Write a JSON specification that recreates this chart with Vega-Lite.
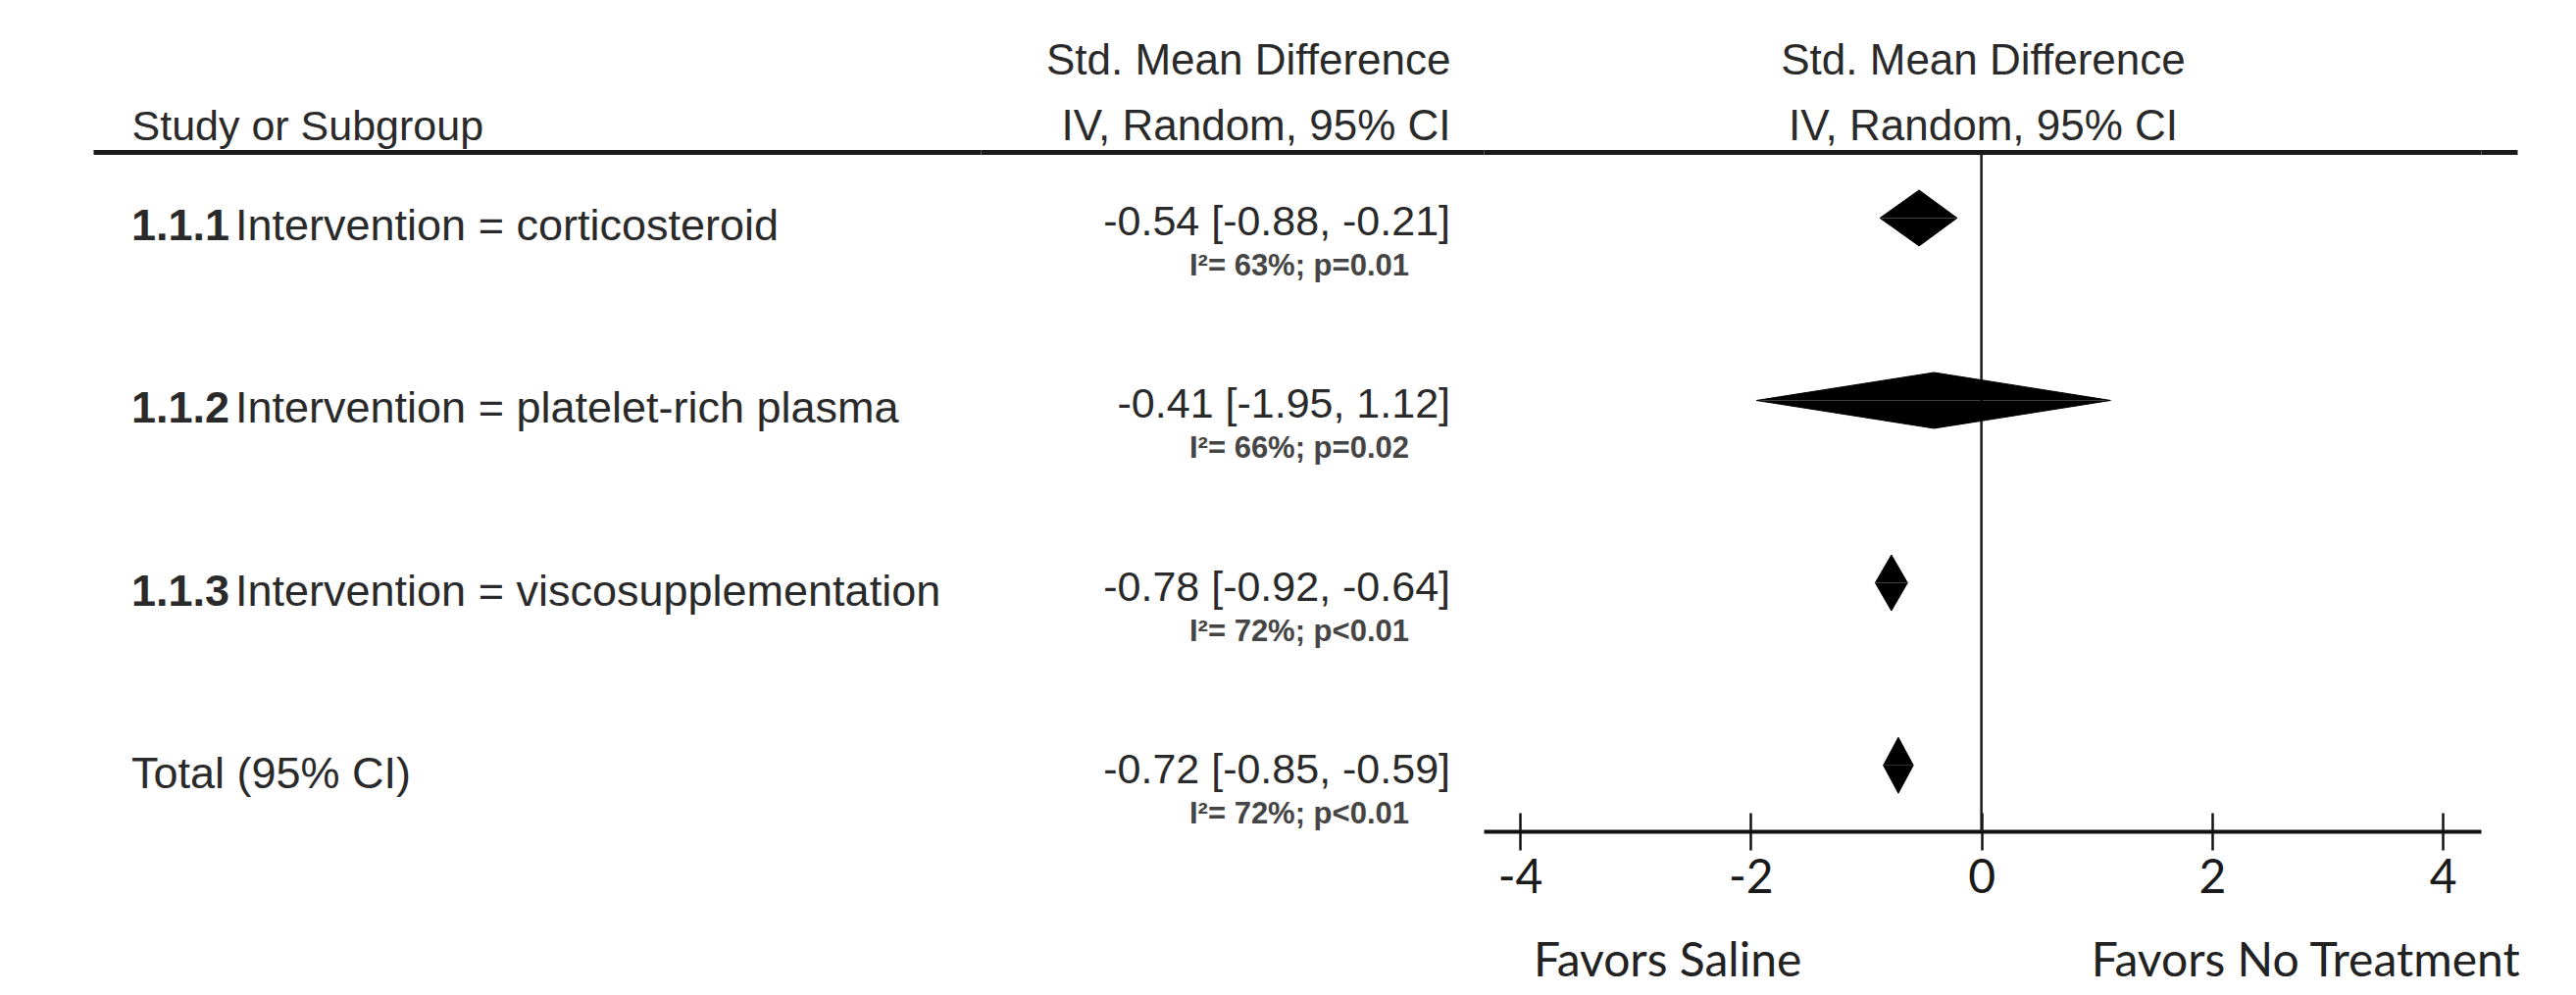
{
  "$schema": "https://vega.github.io/schema/vega-lite/v6.json",
  "background": "white",
  "padding": {"left": 95, "top": 40, "right": 0, "bottom": 0},
  "datasets": {
    "groups": [
      {"code": "1.1.1", "name": "Intervention = corticosteroid", "est": -0.54, "lo": -0.88, "hi": -0.21, "ci": "-0.54 [-0.88, -0.21]", "het": "I²= 63%; p=0.01"},
      {"code": "1.1.2", "name": "Intervention = platelet-rich plasma", "est": -0.41, "lo": -1.95, "hi": 1.12, "ci": "-0.41 [-1.95, 1.12]", "het": "I²= 66%; p=0.02"},
      {"code": "1.1.3", "name": "Intervention = viscosupplementation", "est": -0.78, "lo": -0.92, "hi": -0.64, "ci": "-0.78 [-0.92, -0.64]", "het": "I²= 72%; p<0.01"},
      {"code": "", "name": "Total (95% CI)", "est": -0.72, "lo": -0.85, "hi": -0.59, "ci": "-0.72 [-0.85, -0.59]", "het": "I²= 72%; p<0.01"}
    ],
    "vertices": [
      {"vertex": "lo", "upper": "mid", "lower": "mid"},
      {"vertex": "est", "upper": "top", "lower": "bottom"},
      {"vertex": "hi", "upper": "mid", "lower": "mid"}
    ]
  },
  "config": {"view": {"stroke": null}, "axis": {"grid": false}},
  "spacing": 0,
  "bounds": "flush",
  "hconcat": [
    {
      "width": 905,
      "height": 693,
      "data": {"name": "groups"},
      "encoding": {
        "x": {"datum": 0, "type": "quantitative", "scale": {"domain": [0, 1], "nice": false, "zero": false},
          "axis": {"orient": "top", "ticks": false, "labels": false, "domain": true, "domainWidth": 5, "domainColor": "#1a1a1a",
            "title": "Study or Subgroup", "titleX": 39, "titleAlign": "left", "titleBaseline": "bottom", "titlePadding": 4,
            "titleFont": "Liberation Sans", "titleFontSize": 43, "titleFontWeight": "normal", "titleColor": "#2a2a2a"}},
        "y": {"field": "name", "type": "nominal",
          "scale": {"type": "band", "domain": ["Intervention = corticosteroid", "Intervention = platelet-rich plasma", "Intervention = viscosupplementation", "Total (95% CI)"], "paddingInner": 0.694, "paddingOuter": 0.209, "align": 0.5},
          "axis": null}
      },
      "layer": [
        {"transform": [{"filter": "datum.code != ''"}],
          "mark": {"type": "text", "align": "left", "baseline": "middle", "dx": 39, "dy": 9, "font": "Liberation Sans", "fontSize": 45, "fontWeight": "bold", "color": "#2a2a2a"},
          "encoding": {"text": {"field": "code"}}},
        {"transform": [{"filter": "datum.code != ''"}],
          "mark": {"type": "text", "align": "left", "baseline": "middle", "dx": 145, "dy": 9, "font": "Liberation Sans", "fontSize": 45, "color": "#2a2a2a"},
          "encoding": {"text": {"field": "name"}}},
        {"transform": [{"filter": "datum.code == ''"}],
          "mark": {"type": "text", "align": "left", "baseline": "middle", "dx": 39, "dy": 9, "font": "Liberation Sans", "fontSize": 45, "color": "#2a2a2a"},
          "encoding": {"text": {"field": "name"}}}
      ]
    },
    {
      "width": 513,
      "height": 693,
      "data": {"name": "groups"},
      "encoding": {
        "x": {"datum": 1, "type": "quantitative", "scale": {"domain": [0, 1], "nice": false, "zero": false},
          "axis": {"orient": "top", "ticks": false, "labels": false, "domain": true, "domainWidth": 5, "domainColor": "#1a1a1a",
            "title": ["Std. Mean Difference", "IV, Random, 95% CI"], "titleX": 479, "titleAlign": "right", "titleBaseline": "bottom", "titlePadding": 4, "titleLineHeight": 67,
            "titleFont": "Liberation Sans", "titleFontSize": 44, "titleFontWeight": "normal", "titleColor": "#2a2a2a"}},
        "y": {"field": "name", "type": "nominal",
          "scale": {"type": "band", "domain": ["Intervention = corticosteroid", "Intervention = platelet-rich plasma", "Intervention = viscosupplementation", "Total (95% CI)"], "paddingInner": 0.694, "paddingOuter": 0.209, "align": 0.5},
          "axis": null}
      },
      "layer": [
        {"mark": {"type": "text", "align": "right", "baseline": "middle", "dx": -34, "dy": 5, "font": "Liberation Sans", "fontSize": 43, "color": "#2a2a2a"},
          "encoding": {"text": {"field": "ci"}}},
        {"mark": {"type": "text", "align": "right", "baseline": "middle", "dx": -76, "dy": 50, "font": "Liberation Sans", "fontSize": 31, "fontWeight": "bold", "color": "#454545"},
          "encoding": {"text": {"field": "het"}}}
      ]
    },
    {
      "width": 1017,
      "height": 693,
      "resolve": {"axis": {"x": "independent"}},
      "layer": [
        {
          "data": {"values": [{}]},
          "mark": {"type": "rule", "color": "#1a1a1a", "strokeWidth": 2.5},
          "encoding": {
            "x": {"datum": 0, "type": "quantitative", "scale": {"domain": [-4.315, 4.33], "nice": false, "zero": false},
              "axis": {"orient": "bottom", "values": [-4, -2, 0, 2, 4], "labelExpr": "'' + datum.value", "domain": true, "domainWidth": 4, "domainColor": "#111111",
                "ticks": true, "tickSize": 19, "tickWidth": 2.5, "tickColor": "#111111",
                "labels": true, "labelFont": "Lato", "labelFontSize": 48, "labelColor": "#1a1a1a", "labelPadding": 5, "labelFlush": false, "labelOverlap": false,
                "title": null}}
          }
        },
        {
          "data": {"name": "groups"},
          "transform": [
            {"fold": ["lo", "est", "hi"], "as": ["vertex", "val"]},
            {"lookup": "vertex", "from": {"data": {"name": "vertices"}, "key": "vertex", "fields": ["upper", "lower"]}}
          ],
          "mark": {"type": "line", "filled": true, "fill": "black", "stroke": "black", "strokeWidth": 1, "interpolate": "linear"},
          "encoding": {
            "x": {"field": "val", "type": "quantitative", "scale": {"domain": [-4.315, 4.33], "nice": false, "zero": false},
              "axis": {"orient": "top", "ticks": false, "labels": false, "domain": true, "domainWidth": 5, "domainColor": "#1a1a1a",
                "title": ["Std. Mean Difference", "IV, Random, 95% CI"], "titleX": 509, "titleAlign": "center", "titleBaseline": "bottom", "titlePadding": 4, "titleLineHeight": 67,
                "titleFont": "Liberation Sans", "titleFontSize": 44, "titleFontWeight": "normal", "titleColor": "#2a2a2a"}},
            "y": {"field": "name", "type": "nominal",
              "scale": {"type": "band", "domain": ["Intervention = corticosteroid", "Intervention = platelet-rich plasma", "Intervention = viscosupplementation", "Total (95% CI)"], "paddingInner": 0.694, "paddingOuter": 0.209, "align": 0.5},
              "axis": null},
            "yOffset": {"field": "upper", "type": "nominal", "scale": {"type": "point", "domain": ["top", "mid", "bottom"], "range": [0, 57], "padding": 0}},
            "detail": {"field": "name"},
            "order": {"field": "val", "type": "quantitative"}
          }
        },
        {
          "data": {"name": "groups"},
          "transform": [
            {"fold": ["lo", "est", "hi"], "as": ["vertex", "val"]},
            {"lookup": "vertex", "from": {"data": {"name": "vertices"}, "key": "vertex", "fields": ["upper", "lower"]}}
          ],
          "mark": {"type": "line", "filled": true, "fill": "black", "stroke": "black", "strokeWidth": 1, "interpolate": "linear"},
          "encoding": {
            "x": {"field": "val", "type": "quantitative", "scale": {"domain": [-4.315, 4.33], "nice": false, "zero": false},
              "axis": {"orient": "bottom", "values": [-4, -2, 0, 2, 4], "domain": false, "labels": false, "ticks": true, "tickSize": -19, "tickWidth": 2.5, "tickColor": "#111111", "title": null}},
            "y": {"field": "name", "type": "nominal",
              "scale": {"type": "band", "domain": ["Intervention = corticosteroid", "Intervention = platelet-rich plasma", "Intervention = viscosupplementation", "Total (95% CI)"], "paddingInner": 0.694, "paddingOuter": 0.209, "align": 0.5},
              "axis": null},
            "yOffset": {"field": "lower", "type": "nominal", "scale": {"type": "point", "domain": ["top", "mid", "bottom"], "range": [0, 57], "padding": 0}},
            "detail": {"field": "name"},
            "order": {"field": "val", "type": "quantitative"}
          }
        },
        {
          "data": {"values": [{}]},
          "mark": {"type": "text", "align": "center", "baseline": "middle", "dy": 134, "font": "Lato", "fontSize": 48, "color": "#222222"},
          "encoding": {
            "x": {"datum": -2.72, "type": "quantitative", "axis": null},
            "y": {"value": "height"},
            "text": {"value": "Favors Saline"}
          }
        },
        {
          "data": {"values": [{}]},
          "mark": {"type": "text", "align": "center", "baseline": "middle", "dy": 134, "font": "Lato", "fontSize": 48, "color": "#222222"},
          "encoding": {
            "x": {"datum": 2.81, "type": "quantitative", "axis": null},
            "y": {"value": "height"},
            "text": {"value": "Favors No Treatment"}
          }
        }
      ]
    },
    {
      "width": 37,
      "height": 693,
      "data": {"values": [{}]},
      "mark": {"type": "rule", "opacity": 0},
      "encoding": {
        "x": {"datum": 0, "type": "quantitative", "scale": {"domain": [0, 1], "nice": false, "zero": false},
          "axis": {"orient": "top", "ticks": false, "labels": false, "domain": true, "domainWidth": 5, "domainColor": "#1a1a1a", "title": null}}
      }
    }
  ]
}
